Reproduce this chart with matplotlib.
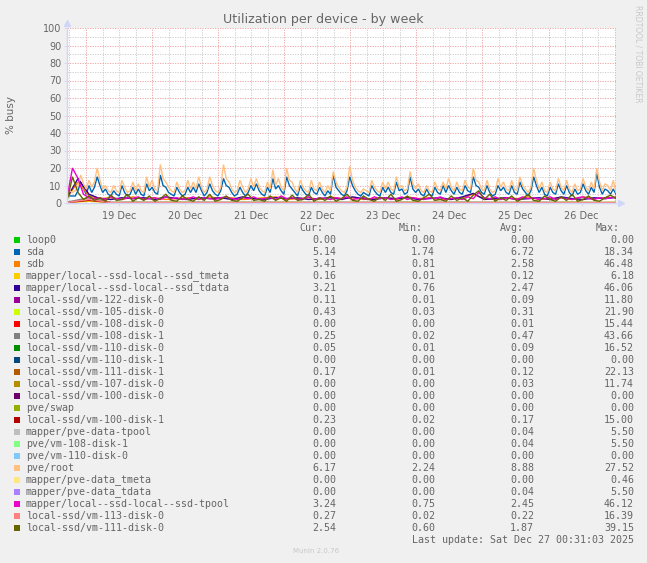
import matplotlib
matplotlib.use("Agg")
import matplotlib.pyplot as plt
from matplotlib.patches import Rectangle
import numpy as np

# ---- data ----
t_start = -6.9          # hours relative to 19 Dec 00:00
t_end = 192.5           # 27 Dec 00:31

# hourly series
pve_root = [8,7,6,7,10,16,11,8,13,9, 12,20,13,8,10,7,6,10,7,6, 13,9,6,7,12,7,11,7,6,15,
            9,13,8,7,22,14,12,9,7,6, 12,8,6,7,13,8,12,8,15,9, 6,8,15,10,7,6,9,22,14,12,
            8,6,7,13,9,6,8,14,9,14, 9,7,6,12,8,19,10,14,9,7, 20,13,12,8,6,13,9,7,6,13,
            8,7,12,8,6,10,7,18,12,9, 7,6,9,21,13,9,7,6,8,7, 6,13,9,7,6,12,8,12,8,7,
            15,9,10,7,8,18,11,8,11,7, 6,10,7,6,12,8,7,12,8,14, 9,7,12,8,7,13,9,8,20,13,
            12,8,7,13,8,6,7,14,9,12, 8,7,13,8,7,15,10,8,6,9, 20,13,8,12,7,6,12,8,7,14,
            9,7,13,8,6,11,7,8,14,9, 7,12,8,20,12,7,11,10,7,13, 6]
sda = [5,4,4,4,7,12,8,5,10,6, 9,15,10,6,8,5,4,7,5,4, 10,6,4,5,9,5,8,5,4,11,
       7,9,6,5,16,10,9,6,5,4, 9,6,4,5,9,6,9,6,11,7, 4,6,11,7,5,4,7,14,10,9,
       6,4,5,9,6,4,6,10,7,11, 7,5,4,9,6,14,8,10,7,5, 15,10,8,6,4,10,7,5,4,9,
       6,5,9,6,4,7,5,16,9,7, 5,4,7,15,10,7,5,4,6,5, 4,10,7,5,4,9,6,9,6,5,
       12,7,8,5,6,15,8,6,8,5, 4,8,5,4,9,6,5,10,6,10, 7,5,9,6,5,10,7,6,15,10,
       9,6,5,10,6,4,5,10,7,9, 6,5,10,6,5,12,8,6,4,7, 15,10,6,9,5,4,9,6,5,11,
       7,5,10,6,4,8,5,6,11,7, 5,9,6,17,9,5,8,7,5,8, 5]

# 2-hourly series
ssd_tpool = [3,20,14,5,3,2.5,3,2,3.5,2.5, 2,3,2.5,3.5,2,2.5,3,2,3.5,2.5,
             3,2,2.5,3.5,2,3,2.5,2,3,3.5, 2.5,2,3,2.5,3.5,2,2.5,3,2,4,
             2.5,3,2,2.5,3.5,2,3,2.5,2,3, 2.5,3.5,2,2.5,3,2,3.5,2.5,3,2,
             2.5,3.5,2,3,2.5,2,3,2.5,3.5,2, 2.5,3,2,3.5,2.5,6,3,2.5,3.5,2,
             3,2.5,2,3.5,2.5,3,2,2.5,3.5,2, 3,2.5,2,3,3.5,2.5,2,3,2.5,3, 3.2]
vm111_d0 = [1,15,6,2,4,1.5,3,1,4.5,1.5, 2,5,1,3,1.5,4,1,2.5,5,1.5,
            1,4,2,1,3.5,1.5,5,1,2,4, 1.5,1,3,5,1.5,2,1,4,1.5,3,
            1,4.5,1.5,2,5,1,3,1.5,4,1, 2.5,5,1.5,1,4,2,1,3.5,1.5,5,
            1,2,4,1.5,1,3,5,1.5,2,1, 4,1.5,3,1,4.5,7,2,5,1,3,
            1.5,4,1,2.5,5,1.5,1,4,2,1, 3.5,1.5,5,1,2,4,1.5,1,3,4.5, 2.5]

# 4-hourly series
sdb = [3,12,4,2.5,3,2,3.5,2.5,3,2, 2.5,3,2,3.5,2.5,3,2,2.5,3,3.5,
       2,2.5,3,2,3.5,2.5,3,2,2.5,3, 2,3.5,2.5,3,2,2.5,3,5,2.5,2,
       3,2.5,3.5,2,2.5,3,2,3.5,2.5,3, 3.4]
ssd_tdata = [3,14,5,2.5,2,3,2.5,3,2,3.5, 2.5,2,3,2.5,3,2,3.5,2.5,2,3,
             2.5,3,2,2.5,3,2,3.5,2.5,2,3, 2.5,3,2,2.5,3,2,3.5,5.5,2,2.5,
             3,2,2.5,3,2,3.5,2.5,2,3,2.5, 3.2]

# 8-hourly series
ssd_tmeta = [0.2,1,0.1,0.1,0.1,0.2,0.1,0.1,0.1,0.2,0.1,0.1,0.1,0.1,0.2,0.1,0.1,0.1,0.1,0.2,0.1,0.1,0.1,0.1,0.1,0.16]
vm105_d0 = [0.4,1.5,0.3,0.4,0.3,0.5,0.3,0.3,0.4,0.3,0.5,0.3,0.4,0.3,0.3,0.4,0.5,0.3,0.4,0.3,0.3,0.4,0.3,0.5,0.3,0.43]
vm108_d1 = [0.5,3,0.4,0.5,0.4,0.4,0.5,0.4,0.4,0.5,0.4,0.4,0.5,0.4,0.4,0.5,0.4,0.4,0.5,0.4,0.4,0.5,0.4,0.4,0.3,0.25]
vm100_d1 = [0.2,1.5,0.2,0.1,0.2,0.2,0.1,0.2,0.2,0.1,0.2,0.2,0.1,0.2,0.2,0.1,0.2,0.2,0.1,0.2,0.2,0.1,0.2,0.2,0.2,0.23]
vm113_d0 = [0.3,2,0.2,0.2,0.3,0.2,0.2,0.3,0.2,0.2,0.3,0.2,0.2,0.2,0.3,0.2,0.2,0.3,0.2,0.2,0.2,0.3,0.2,0.2,0.2,0.27]

names = ["loop0", "sda", "sdb", "mapper/local--ssd-local--ssd_tmeta",
         "mapper/local--ssd-local--ssd_tdata", "local-ssd/vm-122-disk-0",
         "local-ssd/vm-105-disk-0", "local-ssd/vm-108-disk-0", "local-ssd/vm-108-disk-1",
         "local-ssd/vm-110-disk-0", "local-ssd/vm-110-disk-1", "local-ssd/vm-111-disk-1",
         "local-ssd/vm-107-disk-0", "local-ssd/vm-100-disk-0", "pve/swap",
         "local-ssd/vm-100-disk-1", "mapper/pve-data-tpool", "pve/vm-108-disk-1",
         "pve/vm-110-disk-0", "pve/root", "mapper/pve-data_tmeta", "mapper/pve-data_tdata",
         "mapper/local--ssd-local--ssd-tpool", "local-ssd/vm-113-disk-0",
         "local-ssd/vm-111-disk-0"]
colors = ["#00CC00", "#0066B3", "#FF8000", "#FFCC00", "#330099", "#990099", "#CCFF00",
          "#FF0000", "#808080", "#008F00", "#00487D", "#B35A00", "#B38F00", "#6B006B",
          "#8FB300", "#B30000", "#BEBEBE", "#80FF80", "#80C9FF", "#FFC080", "#FFE680",
          "#AA80FF", "#EE00CC", "#FF8080", "#666600"]
cur = [0.00, 5.14, 3.41, 0.16, 3.21, 0.11, 0.43, 0.00, 0.25, 0.05, 0.00, 0.17, 0.00,
       0.00, 0.00, 0.23, 0.00, 0.00, 0.00, 6.17, 0.00, 0.00, 3.24, 0.27, 2.54]
mins = [0.00, 1.74, 0.81, 0.01, 0.76, 0.01, 0.03, 0.00, 0.02, 0.01, 0.00, 0.01, 0.00,
        0.00, 0.00, 0.02, 0.00, 0.00, 0.00, 2.24, 0.00, 0.00, 0.75, 0.02, 0.60]
avgs = [0.00, 6.72, 2.58, 0.12, 2.47, 0.09, 0.31, 0.01, 0.47, 0.09, 0.00, 0.12, 0.03,
        0.00, 0.00, 0.17, 0.04, 0.04, 0.00, 8.88, 0.00, 0.04, 2.45, 0.22, 1.87]
maxs = [0.00, 18.34, 46.48, 6.18, 46.06, 11.80, 21.90, 15.44, 43.66, 16.52, 0.00, 22.13,
        11.74, 0.00, 0.00, 15.00, 5.50, 5.50, 0.00, 27.52, 0.46, 5.50, 46.12, 16.39, 39.15]

day_labels = ["19 Dec", "20 Dec", "21 Dec", "22 Dec", "23 Dec", "24 Dec", "25 Dec", "26 Dec"]

# series that are drawn, by legend name
series = {
    "sda": sda,
    "sdb": sdb,
    "mapper/local--ssd-local--ssd_tmeta": ssd_tmeta,
    "mapper/local--ssd-local--ssd_tdata": ssd_tdata,
    "local-ssd/vm-105-disk-0": vm105_d0,
    "local-ssd/vm-108-disk-1": vm108_d1,
    "local-ssd/vm-100-disk-1": vm100_d1,
    "pve/root": pve_root,
    "mapper/local--ssd-local--ssd-tpool": ssd_tpool,
    "local-ssd/vm-113-disk-0": vm113_d0,
    "local-ssd/vm-111-disk-0": vm111_d0,
}

W, H = 647, 563
FG = "#666666"
AXC = "#CFD6F8"

def fx(x):
    return x / W

def fy(y):
    return 1 - y / H

fig = plt.figure(figsize=(W / 100, H / 100), dpi=100, facecolor="#F0F0F0")
ax = fig.add_axes([fx(67), fy(203), 549 / W, 175 / H])
ax.set_facecolor("white")

for name, col in zip(names, colors):
    if name not in series:
        continue
    vals = series[name]
    tt = np.linspace(t_start, t_end, len(vals))
    ax.plot(tt, vals, color=col, lw=1, solid_joinstyle="miter")

ax.set_xlim(t_start, t_end)
ax.set_ylim(0, 100)

# grid: red dotted at majors, grey dotted at minors
dots = (0, (1.5, 1.5))
for h in np.arange(-6, t_end, 6):
    c = "#EC9C9C" if h % 24 == 0 else "#C8C8C8"
    ax.axvline(h, color=c, lw=0.6, ls=dots, zorder=0)
for v in range(5, 101, 5):
    c = "#EC9C9C" if v % 10 == 0 else "#C8C8C8"
    ax.axhline(v, color=c, lw=0.6, ls=dots, zorder=0)

ax.set_yticks(range(0, 101, 10))
ax.set_yticklabels([str(v) for v in range(0, 101, 10)])
ax.set_xticks([12 + 24 * i for i in range(len(day_labels))])
ax.set_xticklabels(day_labels)
ax.tick_params(labelsize=7, length=2, width=0.6)
ax.tick_params(axis="x", colors=AXC, labelcolor=FG)
ax.tick_params(axis="y", colors=AXC, labelcolor=FG, pad=2)
for s in ["top", "right"]:
    ax.spines[s].set_visible(False)
for s in ["left", "bottom"]:
    ax.spines[s].set_color(AXC)
    ax.spines[s].set_linewidth(1)
ax.plot([1.01], [0], marker=">", color=AXC, ms=4, transform=ax.transAxes, clip_on=False)
ax.plot([0], [1.03], marker="^", color=AXC, ms=4, transform=ax.transAxes, clip_on=False)

# texts
fig.text(0.5, fy(19), "Utilization per device - by week", ha="center", va="center",
         fontsize=9.1, color=FG)
fig.text(fx(11), fy(115), "% busy", rotation=90, ha="center", va="center", fontsize=7.5, color=FG)
fig.text(fx(638), fy(5), "RRDTOOL / TOBI OETIKER", rotation=-90, ha="center", va="top",
         fontsize=5.5, color="#C8C8C8")

mono = "DejaVu Sans Mono"
fs = 7.2
col_x = [336, 435, 534, 634]
head_x = [323, 423, 524, 620]
for hx, lab in zip(head_x, ["Cur:", "Min:", "Avg:", "Max:"]):
    fig.text(fx(hx), fy(228), lab, ha="right", va="center", family=mono, fontsize=fs, color=FG)

for i, name in enumerate(names):
    y = 240 + 12 * i
    fig.patches.append(Rectangle((fx(14), fy(y + 3)), 6 / W, 6 / H, transform=fig.transFigure,
                                 facecolor=colors[i], edgecolor="none"))
    fig.text(fx(26), fy(y), name, ha="left", va="center", family=mono, fontsize=fs, color=FG)
    for cx, vals in zip(col_x, [cur, mins, avgs, maxs]):
        fig.text(fx(cx), fy(y), "%.2f" % vals[i], ha="right", va="center", family=mono,
                 fontsize=fs, color=FG)

fig.text(fx(634), fy(540), "Last update: Sat Dec 27 00:31:03 2025", ha="right", va="center",
         family=mono, fontsize=fs, color=FG)
fig.text(fx(316), fy(551), "Munin 2.0.76", ha="center", va="center", fontsize=5, color="#C8C8C8")

fig.savefig("out.png", dpi=100, facecolor=fig.get_facecolor())
